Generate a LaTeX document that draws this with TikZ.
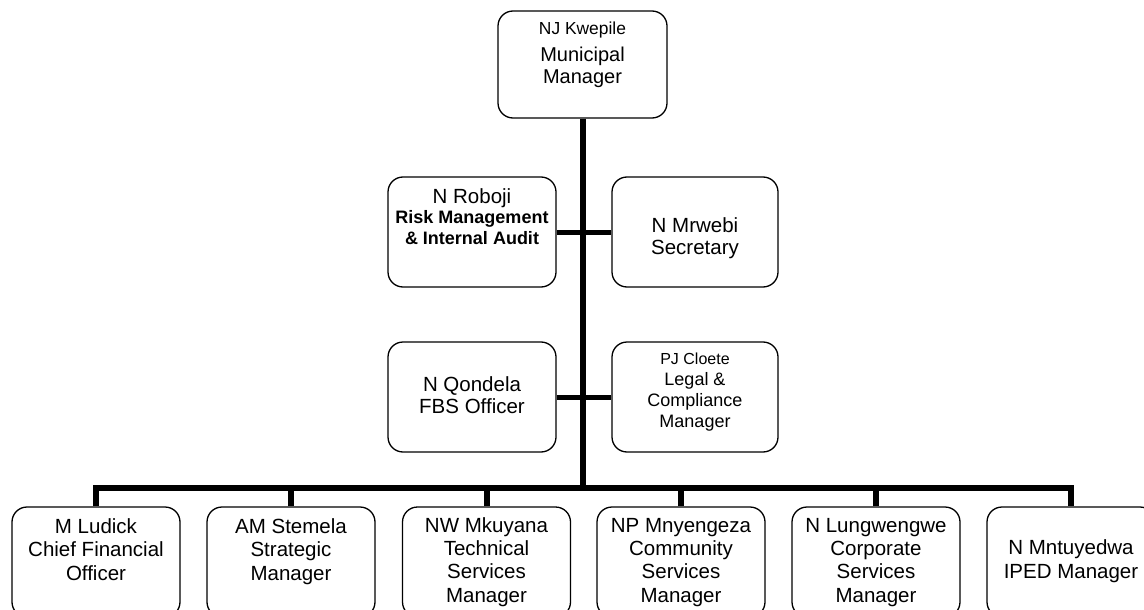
\documentclass[tikz,border=0pt]{standalone}
\usepackage{fontspec}
\setmainfont{Liberation Sans}
\begin{document}
\begin{tikzpicture}[x=1pt,y=-1pt,
  box/.style={draw, rounded corners=15pt, line width=1.3pt, inner sep=0pt,
              minimum width=168pt, minimum height=110pt},
  txt/.style={anchor=base, align=center, inner sep=0pt,
              font=\fontsize{20.5}{23.3}\selectfont},
  conn/.style={line width=6pt}]
\useasboundingbox (0,0) rectangle (1144,610);

% Municipal Manager (text placed by its last baseline)
\node[box, minimum width=169pt, minimum height=107pt] (mm) at (582.5,64.5) {};
\node[txt, font=\fontsize{20}{22}\selectfont] (mmt) at (582.5,84)
  {{\fontsize{17.4}{20}\selectfont NJ Kwepile}\\[5pt] Municipal\\ Manager};

% Office of the Municipal Manager
\node[box] (rob) at (472,232) {};
\node[txt, font=\fontsize{18}{20.5}\selectfont] (robt) at (472,244)
  {{\fontsize{20.5}{23}\selectfont N Roboji}\\ \textbf{Risk Management}\\ \textbf{\& Internal Audit}};
\node[box, minimum width=166pt] (mrw) at (695,232) {};
\node[txt, font=\fontsize{20.5}{22}\selectfont] (mrwt) at (695,254) {N Mrwebi\\ Secretary};

\node[box] (qon) at (472,397) {};
\node[txt, font=\fontsize{20.5}{21.5}\selectfont] (qont) at (472,413) {N Qondela\\ FBS Officer};
\node[box, minimum width=166pt] (pjc) at (695,397) {};
\node[txt, font=\fontsize{18}{20.7}\selectfont] (pjct) at (695,427)
  {{\fontsize{16}{18}\selectfont PJ Cloete}\\ Legal \&\\ Compliance\\ Manager};

% Directors
\node[box] (b1) at (96,562) {};
\node[box] (b2) at (291,562) {};
\node[box] (b3) at (486.5,562) {};
\node[box] (b4) at (681,562) {};
\node[box] (b5) at (876,562) {};
\node[box] (b6) at (1071,562) {};
\node[txt] (b1t) at (96,580) {M Ludick\\ Chief Financial\\ Officer};
\node[txt] (b2t) at (291,580) {AM Stemela\\ Strategic\\ Manager};
\node[txt] (b3t) at (486.5,602) {NW Mkuyana\\ Technical\\ Services\\ Manager};
\node[txt] (b4t) at (681,602) {NP Mnyengeza\\ Community\\ Services\\ Manager};
\node[txt] (b5t) at (876,602) {N Lungwengwe\\ Corporate\\ Services\\ Manager};
\node[txt] (b6t) at (1071,578) {N Mntuyedwa\\ IPED Manager};

% Reporting lines
\coordinate (bus) at (583,488);
\draw[conn] (mm.south) -- (mm.south |- bus);
\draw[conn, line width=5pt] (rob.east) -- (mrw.west);
\draw[conn, line width=5pt] (qon.east) -- (pjc.west);
\draw[conn] (b1.north) -- (b1.north |- bus) -- (b6.north |- bus) -- (b6.north);
\foreach \b in {b2,b3,b4,b5}
  \draw[conn] (\b.north) -- (\b.north |- bus);
\end{tikzpicture}
\end{document}
